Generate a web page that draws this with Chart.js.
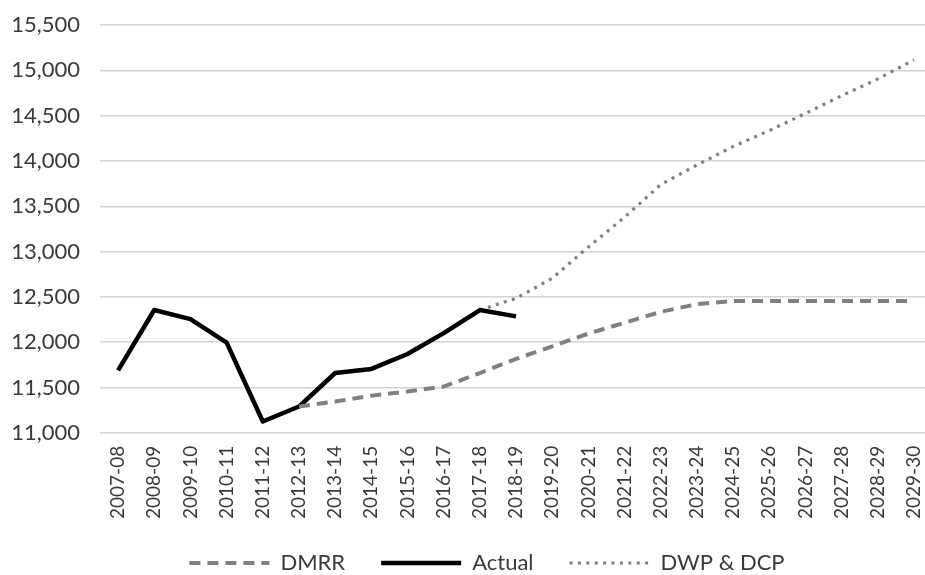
<!DOCTYPE html>
<html>
<head>
<meta charset="utf-8">
<script src="https://cdn.jsdelivr.net/npm/chart.js@4.4.1/dist/chart.umd.min.js"></script>
<style>
  html, body { margin: 0; padding: 0; background: #ffffff; overflow: hidden; }
  #wrap { position: relative; width: 950px; height: 575px; }
</style>
</head>
<body>
<div id="wrap"><canvas id="chart"></canvas></div>
<script>
// Financial years on the horizontal axis
const years = [
  '2007-08', '2008-09', '2009-10', '2010-11', '2011-12', '2012-13',
  '2013-14', '2014-15', '2015-16', '2016-17', '2017-18', '2018-19',
  '2019-20', '2020-21', '2021-22', '2022-23', '2023-24', '2024-25',
  '2025-26', '2026-27', '2027-28', '2028-29', '2029-30'
];

// Outturn figures
const actual = [
  11690, 12355, 12255, 11995, 11125, 11290,
  11660, 11705, 11870, 12100, 12355, 12285,
  null, null, null, null, null, null,
  null, null, null, null, null
];

// DMRR projection
const dmrr = [
  null, null, null, null, null, 11290,
  11345, 11410, 11455, 11510, 11660, 11815,
  11955, 12095, 12215, 12335, 12420, 12455,
  12455, 12455, 12455, 12455, 12455
];

// DWP & DCP projection
const dwpDcp = [
  null, null, null, null, null, null,
  null, null, null, null, 12355, 12485,
  12705, 13050, 13380, 13740, 13955, 14160,
  14335, 14525, 14720, 14905, 15115
];

// Value axis ticks
const yTicks = [11000, 11500, 12000, 12500, 13000, 13500, 14000, 14500, 15000, 15500];

const textColor = '#3a3a3a';

// Legend placement: reserve less height below the axis, then give the
// legend back its full box (so nothing is clipped) and nudge it into place
const LEGEND_TRIM = 25;
const legendPlace = {
  id: 'legendPlace',
  beforeInit(chart) {
    const lg = chart.legend;
    const fit = lg.fit;
    lg.fit = function () {
      fit.call(lg);
      lg.height -= LEGEND_TRIM;
    };
  },
  afterLayout(chart) {
    const lg = chart.legend;
    lg.top -= LEGEND_TRIM;
    lg.top += 9;
    lg.bottom += 9;
    lg.left += 16;
    lg.right += 16;
  }
};

const chart = new Chart(document.getElementById('chart'), {
  type: 'line',
  data: {
    labels: years,
    datasets: [
      {
        label: 'DMRR',
        data: dmrr,
        borderColor: '#808080',
        borderWidth: 4,
        borderDash: [11, 7],
        pointRadius: 0,
        tension: 0
      },
      {
        label: 'Actual',
        data: actual,
        borderColor: '#000000',
        borderWidth: 4.5,
        pointRadius: 0,
        tension: 0,
        borderJoinStyle: 'round'
      },
      {
        label: 'DWP & DCP',
        data: dwpDcp,
        borderColor: '#808080',
        borderWidth: 3.2,
        borderDash: [3, 5.4],
        pointRadius: 0,
        tension: 0
      }
    ]
  },
  plugins: [legendPlace],
  options: {
    responsive: true,
    maintainAspectRatio: false,
    animation: false,
    layout: { padding: { left: 0, right: 8, top: 25, bottom: 0 } },
    plugins: {
      tooltip: { enabled: false },
      legend: {
        position: 'bottom',
        align: 'center',
        labels: {
          font: { family: 'Lato', size: 22 },
          color: textColor,
          usePointStyle: true,
          pointStyleWidth: 80,
          boxHeight: 10,
          padding: 36,
          generateLabels(c) {
            return c.data.datasets.map((ds, i) => ({
              text: ds.label,
              datasetIndex: i,
              fillStyle: ds.borderColor,
              strokeStyle: ds.borderColor,
              lineWidth: ds.borderWidth,
              lineDash: ds.borderDash || [],
              lineCap: 'butt',
              pointStyle: 'line',
              fontColor: textColor,
              hidden: false
            }));
          }
        }
      }
    },
    scales: {
      x: {
        offset: true,
        grid: { display: false, drawTicks: false },
        border: { display: false },
        ticks: {
          autoSkip: false,
          maxRotation: 90,
          minRotation: 90,
          padding: 13,
          color: textColor,
          font: { family: 'Lato', size: 19 }
        }
      },
      y: {
        min: yTicks[0],
        max: yTicks[yTicks.length - 1],
        afterBuildTicks(axis) { axis.ticks = yTicks.map(v => ({ value: v })); },
        afterFit(axis) {
          axis.width = 100;
          axis.paddingTop = 0;
          axis.paddingBottom = 0;
        },
        grid: { color: '#d4d4d4', lineWidth: 1.5, drawTicks: false },
        border: { display: false },
        ticks: {
          padding: 20,
          color: textColor,
          font: { family: 'Lato', size: 22 },
          callback: v => v.toLocaleString('en-US')
        }
      }
    }
  }
});
</script>
</body>
</html>
